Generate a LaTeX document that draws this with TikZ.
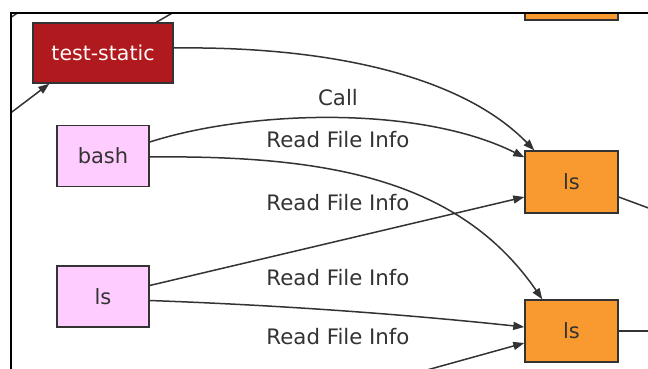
\documentclass[tikz,border=0pt]{standalone}
\usepackage{fontspec}
\setmainfont{DejaVu Sans}
\usetikzlibrary{arrows.meta,calc}
\definecolor{edgec}{HTML}{333333}
\definecolor{textc}{HTML}{333333}
\definecolor{firebr}{HTML}{B0191E}
\definecolor{pinkf}{HTML}{FFCCFF}
\definecolor{orangef}{HTML}{F89A2F}
\tikzset{
  box/.style={draw=edgec, line width=1.4pt, rectangle, inner sep=0pt, font=\fontsize{21}{25}\selectfont, text=textc},
  procbox/.style={box, fill=pinkf, minimum width=92pt, minimum height=61pt},
  filebox/.style={box, fill=orangef, minimum width=93pt, minimum height=62pt},
  redbox/.style={box, fill=firebr, text=white!90!pink, font=\fontsize{20.5}{25}\selectfont, minimum width=140pt, minimum height=60pt},
  conn/.style={draw=edgec, line width=1.5pt, -{Triangle[length=11pt,width=8pt]}},
  plain/.style={draw=edgec, line width=1.5pt},
  lbl/.style={font=\fontsize{21.3}{25}\selectfont, text=textc, inner sep=0pt},
  frame/.style={draw=black, line width=2pt}
}
\begin{document}
\begin{tikzpicture}[x=1pt,y=-1pt]
\useasboundingbox[fill=white] (0,0) rectangle (648,369);
\begin{scope}
\clip (11,13) rectangle (648,369);
\node[redbox] (ts) at (103,53) {test-static};
\node[procbox] (bash) at (103,156) {bash};
\node[procbox] (lsL) at (103,296.5) {ls};
\node[filebox] (lsT) at (571.5,182) {ls};
\node[filebox] (lsB) at (571.5,331) {ls};
\node[filebox] (lsTop) at (571.5,-11) {};
\coordinate (inTS) at (0,121);
\coordinate (outTS) at (181,8);
\coordinate (tlA) at (4,22);
\coordinate (tlB) at (22,10);
\coordinate (inB) at (380,383);
\coordinate (outT) at (662,213);
\coordinate (outB) at (662,331);

\node[lbl] (lcall) at (338,98) {Call};
\node[lbl] (l1) at (338,140) {Read File Info};
\node[lbl] (l2) at (338,203) {Read File Info};
\node[lbl] (l3) at (338,278) {Read File Info};
\node[lbl] (l4) at (338,337) {Read File Info};

\draw[conn] ($(ts.east)+(0,-5)$) .. controls (330,46) and (462,76) .. ($(lsT.north west)+(10,0)$);
\draw[conn] ($(bash.east)+(0,-14)$) .. controls (250,110) and (420,105) .. ($(lsT.north west)+(0,7)$);
\draw[conn] ($(bash.east)+(0,1)$) .. controls (330,155) and (460,180) .. ($(lsB.north west)+(18,0)$);
\draw[conn] ($(lsL.east)+(0,-11)$) -- ($(lsT.west)+(0,15)$);
\draw[conn] ($(lsL.east)+(0,4)$) .. controls (300,306) and (420,316) .. ($(lsB.west)+(0,-4)$);
\draw[conn] (inB) -- ($(lsB.west)+(0,12)$);
\draw[conn] (inTS) -- ($(ts.south west)+(17,0)$);
\draw[plain] ($(ts.north west)+(124,0)$) -- (outTS);
\draw[plain] (tlA) -- (tlB);
\draw[plain] ($(lsT.east)+(0,15)$) -- (outT);
\draw[plain] (lsB.east) -- (outB);
\end{scope}
\draw[frame] (11,369) -- (11,13) -- (648,13);
\end{tikzpicture}
\end{document}
